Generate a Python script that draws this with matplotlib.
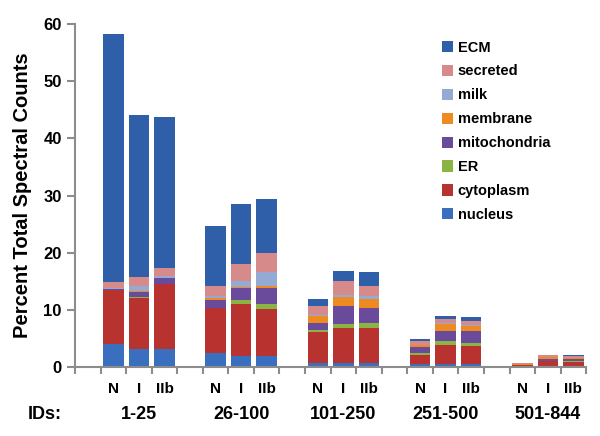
import numpy as np
import matplotlib
matplotlib.use("Agg")
import matplotlib.pyplot as plt

plt.rcParams['font.family'] = ['Liberation Sans', 'DejaVu Sans']
plt.rcParams['font.weight'] = 'bold'

# Data: segment heights (percent) per bar, bottom to top
groups = ['1-25', '26-100', '101-250', '251-500', '501-844']
samples = ['N', 'I', 'IIb']
locations = ['nucleus', 'cytoplasm', 'ER', 'mitochondria', 'membrane', 'milk', 'secreted', 'ECM']

nucleus      = [4.1, 3.1, 3.15,  2.4, 1.9, 1.9,   0.8, 0.8, 0.8,   0.5, 0.6, 0.6,   0.1, 0.2, 0.2]
cytoplasm    = [9.4, 9.0, 11.3,  7.9, 9.2, 8.2,   5.3, 6.0, 6.1,   1.65, 3.25, 3.1, 0.2, 0.8, 0.7]
er           = [0.0, 0.1, 0.1,   0.1, 0.6, 1.0,   0.4, 0.7, 0.9,   0.4, 0.7, 0.45,  0.05, 0.1, 0.1]
mitochondria = [0.2, 1.0, 1.0,   1.3, 2.1, 2.8,   1.25, 3.2, 2.5,  0.9, 1.8, 2.15,  0.1, 0.4, 0.4]
membrane     = [0.0, 0.1, 0.1,   0.3, 0.2, 0.2,   1.15, 1.6, 1.6,  0.4, 1.25, 0.95, 0.1, 0.2, 0.2]
milk         = [0.2, 0.9, 0.3,   0.4, 1.0, 2.5,   0.2, 0.3, 0.5,   0.1, 0.1, 0.1,   0.02, 0.05, 0.05]
secreted     = [0.9, 1.5, 1.4,   1.8, 3.1, 3.3,   1.6, 2.4, 1.8,   0.65, 0.7, 0.75, 0.15, 0.3, 0.3]
ecm          = [43.4, 28.3, 26.45, 10.5, 10.5, 9.5, 1.2, 1.85, 2.5, 0.4, 0.6, 0.6,  0.08, 0.15, 0.1]

series = [nucleus, cytoplasm, er, mitochondria, membrane, milk, secreted, ecm]
colors = ['#3a6fbf', '#b83330', '#8ab443', '#6a4b9b', '#ee8a22', '#94aad4', '#d68a8a', '#2f5fa8']

# bar slots: one empty slot before each group of three
pos = []
for g in range(len(groups)):
    for s in range(len(samples)):
        pos.append(g * 4 + 1 + s + 0.5)
pos = np.array(pos)

fig = plt.figure(figsize=(6, 4.36), dpi=100)
ax = fig.add_axes([0.125, 0.158, 0.852, 0.787])

bottom = np.zeros(len(pos))
handles = []
for name, vals, c in zip(locations, series, colors):
    vals = np.array(vals)
    h = ax.bar(pos, vals, width=0.8, bottom=bottom, color=c, label=name, linewidth=0)
    handles.append(h)
    bottom += vals

ax.set_xlim(0, 20)
ax.set_ylim(0, 60)
ax.set_xticks(np.arange(0, 21))
ax.set_xticklabels([])
ax.set_yticks(np.arange(0, 61, 10))
ax.tick_params(axis='both', colors='#8c8c8c', length=6, width=1.5, labelcolor='black', labelsize=12)
ax.tick_params(axis='x', length=5)
for side in ['top', 'right']:
    ax.spines[side].set_visible(False)
for side in ['left', 'bottom']:
    ax.spines[side].set_color('#8c8c8c')
    ax.spines[side].set_linewidth(1.5)

# sample labels and group labels
for p, lab in zip(pos, samples * len(groups)):
    ax.text(p, -3.9, lab, ha='center', va='center', fontsize=11, fontweight='bold')
for g, lab in enumerate(groups):
    ax.text(g * 4 + 2.5, -8.2, lab, ha='center', va='center', fontsize=13, fontweight='bold')
ax.text(-1.2, -8.2, 'IDs:', ha='center', va='center', fontsize=13, fontweight='bold')

ax.set_ylabel('Percent Total Spectral Counts', fontsize=14.5, fontweight='bold', labelpad=8)

ax.legend(handles[::-1], locations[::-1], loc='upper right', bbox_to_anchor=(0.955, 0.99),
          frameon=False, fontsize=10.5, handlelength=0.8, handleheight=0.8,
          handletextpad=0.3, labelspacing=0.68)

fig.savefig('out.png', dpi=100)
